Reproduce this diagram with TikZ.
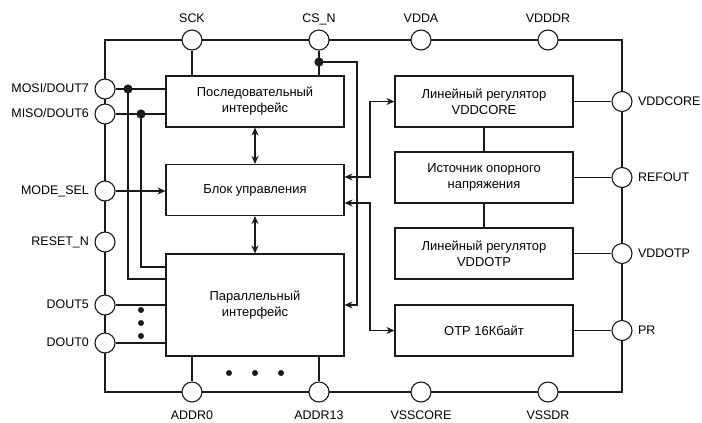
\documentclass[tikz,border=0pt]{standalone}
\usepackage{fontspec}
\setmainfont{Liberation Sans}
\usetikzlibrary{arrows.meta, positioning}
\definecolor{ink}{HTML}{1A1A1A}
\tikzset{
  pad/.style={circle, draw=ink, fill=white, minimum size=20bp, inner sep=0pt},
  blk/.style={draw=ink, fill=white, minimum width=178bp, minimum height=51bp, align=center, font=\fontsize{13}{16}\selectfont},
  lbl/.style={font=\fontsize{12.5}{14}\selectfont, inner sep=1bp, text height=9bp, text depth=2bp},
  ar/.style={-{Stealth[length=8bp,width=7bp]}},
  dar/.style={{Stealth[length=8bp,width=7bp]}-{Stealth[length=8bp,width=7bp]}}
}

\begin{document}
\begin{tikzpicture}[x=1bp, y=-1bp, line width=1.1bp, draw=ink, line join=miter]
  \useasboundingbox (0,0) rectangle (702,422);
  % frame
  \draw (105,40) rectangle (622,392);
  % blocks
  \node[blk] (ser) at (255,101.5) {Последовательный\\интерфейс};
  \node[blk] (ctrl) at (255,190) {Блок управления};
  \node[blk, minimum height=102bp] (par) at (255,305) {Параллельный\\интерфейс};
  \node[blk] (ldoc) at (484,101.5) {Линейный регулятор\\VDDCORE};
  \node[blk] (vref) at (484,177.5) {Источник опорного\\напряжения};
  \node[blk] (ldoo) at (484,253.5) {Линейный регулятор\\VDDOTP};
  \node[blk] (otp) at (484,330.5) {OTP 16Кбайт};
  % pads, top and bottom
  \node[pad] (sck) at (192,40) {};
  \node[pad] (csn) at (319,40) {};
  \node[pad] (vdda) at (421,40) {};
  \node[pad] (vdddr) at (548,40) {};
  \node[pad] (addr0) at (192,392) {};
  \node[pad] (addr13) at (319,392) {};
  \node[pad] (vsscore) at (421,392) {};
  \node[pad] (vssdr) at (548,392) {};
  \node[lbl, above=3bp of sck] {SCK};
  \node[lbl, above=3bp of csn] {CS\_N};
  \node[lbl, above=3bp of vdda] {VDDA};
  \node[lbl, above=3bp of vdddr] {VDDDR};
  \node[lbl, below=6bp of addr0] {ADDR0};
  \node[lbl, below=6bp of addr13] {ADDR13};
  \node[lbl, below=6bp of vsscore] {VSSCORE};
  \node[lbl, below=6bp of vssdr] {VSSDR};
  % pads, left
  \node[pad] (mosi) at (105,89) {};
  \node[pad] (miso) at (105,114) {};
  \node[pad] (msel) at (105,191) {};
  \node[pad] (rstn) at (105,242) {};
  \node[pad] (dout5) at (105,305) {};
  \node[pad] (dout0) at (105,343) {};
  \node[lbl, left=4bp of mosi] {MOSI/DOUT7};
  \node[lbl, left=4bp of miso] {MISO/DOUT6};
  \node[lbl, left=4bp of msel] {MODE\_SEL};
  \node[lbl, left=4bp of rstn] {RESET\_N};
  \node[lbl, left=4bp of dout5] {DOUT5};
  \node[lbl, left=4bp of dout0] {DOUT0};
  % pads, right
  \node[pad] (vddcore) at (622,101.5) {};
  \node[pad] (refout) at (622,177.5) {};
  \node[pad] (vddotp) at (622,253.5) {};
  \node[pad] (pr) at (622,330.5) {};
  \node[lbl, right=4bp of vddcore] {VDDCORE};
  \node[lbl, right=4bp of refout] {REFOUT};
  \node[lbl, right=4bp of vddotp] {VDDOTP};
  \node[lbl, right=4bp of pr] {PR};
  % junctions
  \coordinate (csj) at (319,62);
  \coordinate (mosij) at (128,89);
  \coordinate (misoj) at (141,114);
  \coordinate (bus1) at (370,177);
  \coordinate (bus2) at (370,203);
  % serial side
  \draw (sck) -- (sck |- ser.north);
  \draw (csn) -- (csn |- ser.north);
  \draw[ar] (csj) -| (357,305) -- (par.east);
  \draw (mosi) -- (mosi -| ser.west);
  \draw (miso) -- (miso -| ser.west);
  \draw (mosij) |- (par.west |- 0,279);
  \draw (misoj) |- (par.west |- 0,267);
  \draw[ar] (msel) -- (msel -| ctrl.west);
  \draw (dout5) -- (par.west);
  \draw (dout0) -- (dout0 -| par.west);
  \draw (addr0) -- (addr0 |- par.south);
  \draw (addr13) -- (addr13 |- par.south);
  \draw[dar] (ser) -- (ctrl);
  \draw[dar] (ctrl) -- (par);
  \foreach \j in {csj,mosij,misoj}{\fill[ink] (\j) circle (4.6bp);}
  % analog side
  \draw[dar] (bus1 -| ctrl.east) -- (bus1) |- (ldoc.west);
  \draw[dar] (bus2 -| ctrl.east) -- (bus2) |- (otp.west);
  \draw (ldoc) -- (vref);
  \draw (vref) -- (ldoo);
  \draw (ldoc) -- (vddcore);
  \draw (vref) -- (refout);
  \draw (ldoo) -- (vddotp);
  \draw (otp) -- (pr);
  % ellipsis dots
  \foreach \y in {310,323,336}{\fill[ink] (141,\y) circle (3bp);}
  \foreach \x in {229,255,281}{\fill[ink] (\x,373) circle (3bp);}
\end{tikzpicture}
\end{document}
